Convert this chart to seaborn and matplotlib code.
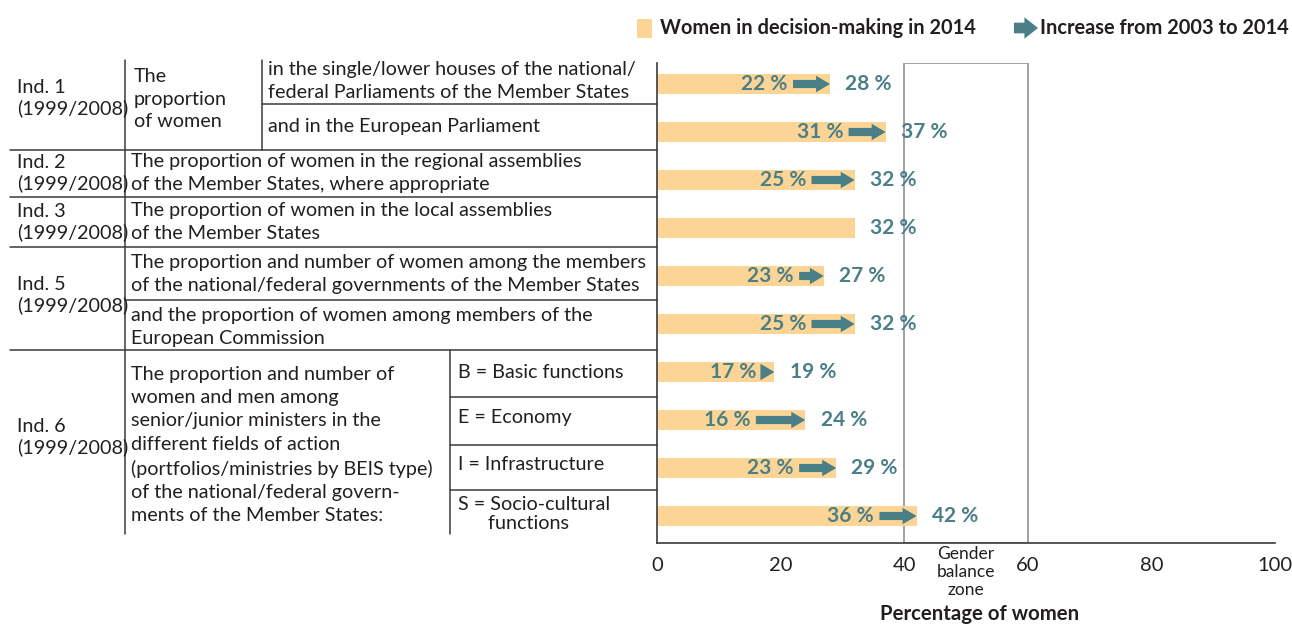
import matplotlib
matplotlib.use("Agg")
import matplotlib.pyplot as plt
import pandas as pd
import seaborn as sns
from matplotlib.lines import Line2D
from matplotlib.patches import Rectangle, FancyArrowPatch

# data
rows = ["1a", "1b", "2", "3", "5a", "5b", "6B", "6E", "6I", "6S"]
women_2003 = [22, 31, 25, None, 23, 25, 17, 16, 23, 36]
women_2014 = [28, 37, 32, 32, 27, 32, 19, 24, 29, 42]
x_ticks = [0, 20, 40, 60, 80, 100]
balance_zone = (40, 60)

BAR = "#FCD596"
TEAL = "#4A7F87"
INK = "#231F20"
LINE = "#3A3A3A"
ARROW = "simple,head_width=0.85,head_length=0.72,tail_width=0.42"

sns.set_theme(style="white")
plt.rcParams["font.family"] = ["Lato", "DejaVu Sans"]

W, H = 1292, 626


def fx(px):
    return px / W


def fy(py):
    return 1 - py / H


fig = plt.figure(figsize=(W / 100, H / 100), dpi=100)
ax = fig.add_axes([fx(657), fy(543), (1275 - 657) / W, (543 - 63) / H])

df = pd.DataFrame({"row": rows, "v2014": women_2014})
sns.barplot(data=df, x="v2014", y="row", orient="h", color=BAR, saturation=1,
            width=0.4, linewidth=0, ax=ax)

for i, (a, b) in enumerate(zip(women_2003, women_2014)):
    if a is not None:
        ax.annotate("", xy=(b, i), xytext=(a, i),
                    arrowprops=dict(arrowstyle=ARROW, fc=TEAL, ec="none",
                                    shrinkA=0, shrinkB=0, mutation_scale=14))
        ax.annotate(f"{a} %", xy=(a, i), xytext=(-4, 0), textcoords="offset points",
                    ha="right", va="center", color=TEAL, fontsize=15, fontweight="bold")
    ax.annotate(f"{b} %", xy=(b, i), xytext=(11, 0), textcoords="offset points",
                ha="left", va="center", color=TEAL, fontsize=15, fontweight="bold")

ax.axvspan(*balance_zone, fill=False, edgecolor="#9A9A9A", linewidth=1.3, zorder=0)

ax.set_xlim(0, 100)
ax.set_ylim(9.5625, -0.4375)
ax.set_xticks(x_ticks)
ax.set_yticks([])
ax.set_ylabel("")
ax.set_xlabel("Percentage of women", fontsize=14.7, fontweight="bold", color=INK)
ax.xaxis.set_label_coords((980 - 657) / 618, -0.128)
ax.tick_params(axis="x", direction="out", length=6, width=1.2, color=LINE,
               labelsize=14.5, labelcolor=INK, pad=4)
for s in ["top", "right"]:
    ax.spines[s].set_visible(False)
for s in ["left", "bottom"]:
    ax.spines[s].set_color(LINE)
    ax.spines[s].set_linewidth(1.2)

fig.text(fx(966), fy(572), "Gender\nbalance\nzone", ha="center", va="center",
         fontsize=12.5, color=INK, linespacing=1.19)


# table on the left
def hline(y, x0, x1):
    fig.add_artist(Line2D([fx(x0), fx(x1)], [fy(y), fy(y)], color=LINE, lw=1.1))


def vline(x, y0, y1):
    fig.add_artist(Line2D([fx(x), fx(x)], [fy(y0), fy(y1)], color=LINE, lw=1.1))


vline(125, 60, 534)
vline(262, 60, 150)
vline(450, 350, 534)
hline(104, 262, 657)
for y in [150, 197, 247, 350]:
    hline(y, 10, 657)
hline(300, 125, 657)
for y in [397, 445, 490]:
    hline(y, 450, 657)


def txt(x, y, s, ls=1.4):
    fig.text(fx(x), fy(y), s, ha="left", va="center", fontsize=14.2, color=INK,
             linespacing=ls)


IND = 1.23
txt(17, 98, "Ind. 1\n(1999/2008)", IND)
txt(134, 99, "The\nproportion\nof women")
txt(268, 81, "in the single/lower houses of the national/\nfederal Parliaments of the Member States")
txt(268, 126, "and in the European Parliament")
txt(17, 173, "Ind. 2\n(1999/2008)", IND)
txt(131, 173, "The proportion of women in the regional assemblies\nof the Member States, where appropriate")
txt(17, 222, "Ind. 3\n(1999/2008)", IND)
txt(131, 222, "The proportion of women in the local assemblies\nof the Member States")
txt(17, 295, "Ind. 5\n(1999/2008)", IND)
txt(131, 274, "The proportion and number of women among the members\nof the national/federal governments of the Member States")
txt(131, 327, "and the proportion of women among members of the\nEuropean Commission")
txt(17, 437, "Ind. 6\n(1999/2008)", IND)
txt(131, 445, "The proportion and number of\nwomen and men among\nsenior/junior ministers in the\ndifferent fields of action\n"
    "(portfolios/ministries by BEIS type)\nof the national/federal govern-\nments of the Member States:", 1.45)
txt(458, 372, "B = Basic functions")
txt(458, 418, "E = Economy")
txt(458, 465, "I = Infrastructure")
txt(458, 514, "S = Socio-cultural\n      functions", 1.2)

# legend
fig.add_artist(Rectangle((fx(637), fy(38)), fx(15), 19 / H, transform=fig.transFigure,
                         facecolor=BAR, edgecolor="none"))
fig.text(fx(660), fy(28), "Women in decision-making in 2014", ha="left", va="center",
         fontsize=14.4, fontweight="bold", color=INK)
fig.add_artist(FancyArrowPatch((fx(1014), fy(28)), (fx(1038), fy(28)), transform=fig.transFigure,
                               arrowstyle="simple,head_width=1.1,head_length=0.7,tail_width=0.55",
                               mutation_scale=14, fc=TEAL, ec="none", shrinkA=0, shrinkB=0))
fig.text(fx(1040), fy(28), "Increase from 2003 to 2014", ha="left", va="center",
         fontsize=14.4, fontweight="bold", color=INK)

fig.savefig("out.png", dpi=100)
